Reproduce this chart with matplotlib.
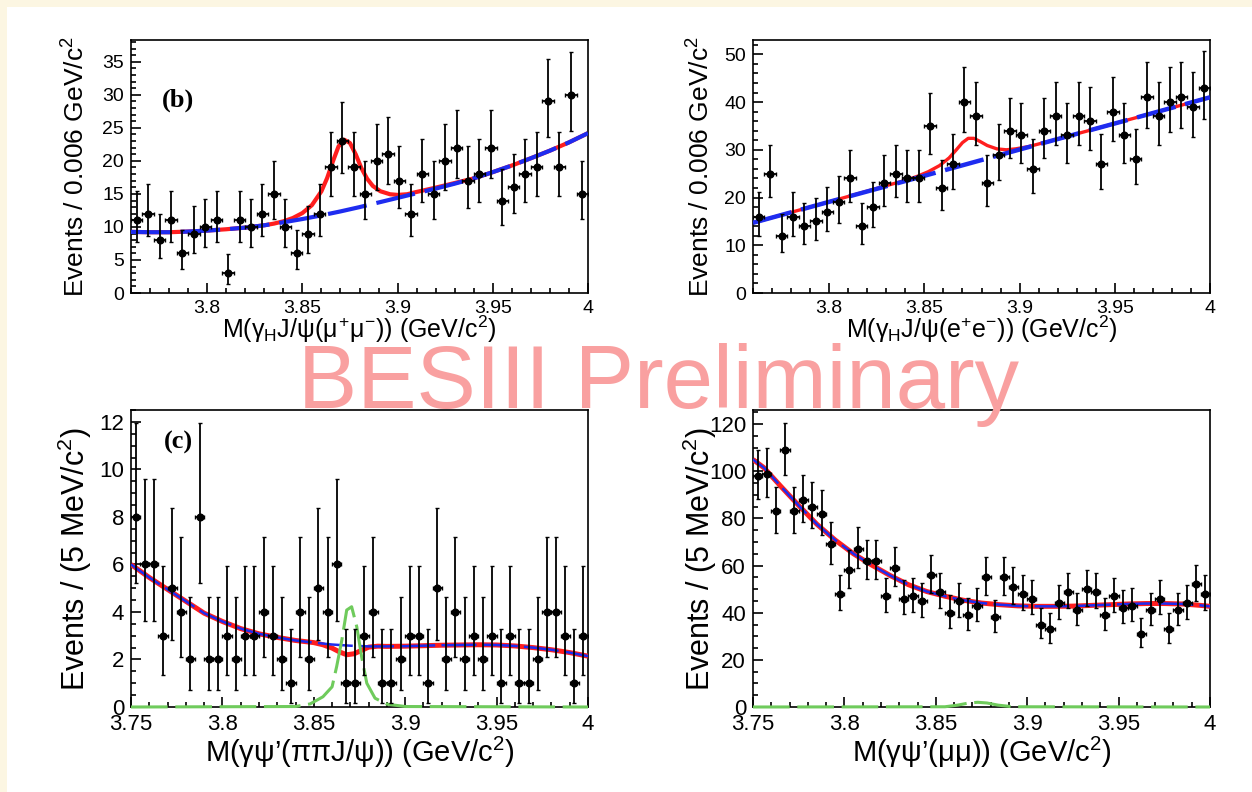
import math
import numpy as np
import matplotlib
matplotlib.use("Agg")
import matplotlib.pyplot as plt
from matplotlib.ticker import MultipleLocator, FuncFormatter
from matplotlib.patches import Rectangle

# DATOS

# (b) gamma_H J/psi(mu+ mu-), 6 MeV bins
b_range = (3.76, 4.00)
b_counts = [11, 12, 8, 11, 6, 9, 10, 11, 3, 11,
            10, 12, 15, 10, 6, 9, 12, 19, 23, 19,
            15, 20, 21, 17, 12, 18, 15, 20, 22, 17,
            18, 22, 14, 16, 18, 19, 29, 19, 30, 15]

b_bkg_x = [3.76, 3.77, 3.78, 3.79, 3.80, 3.81, 3.82, 3.83, 3.84, 3.85, 3.86, 3.87, 3.88,
           3.89, 3.90, 3.91, 3.92, 3.93, 3.94, 3.95, 3.96, 3.97, 3.98, 3.99, 4.00]
b_bkg_y = [9.25, 9.2, 9.2, 9.3, 9.45, 9.65, 9.9, 10.25, 10.7, 11.2, 11.75, 12.35, 13.0,
           13.7, 14.4, 15.1, 15.8, 16.55, 17.35, 18.3, 19.3, 20.4, 21.55, 22.8, 24.2]

b_tot_x = [3.76, 3.77, 3.78, 3.79, 3.80, 3.81, 3.82, 3.83, 3.835, 3.84, 3.845, 3.85, 3.855,
           3.86, 3.863, 3.866, 3.869, 3.872, 3.875, 3.878, 3.881, 3.884, 3.887, 3.891, 3.896,
           3.90, 3.905, 3.91, 3.92, 3.93, 3.94, 3.95, 3.96, 3.97, 3.98, 3.99, 4.00]
b_tot_y = [9.25, 9.2, 9.2, 9.3, 9.45, 9.65, 9.9, 10.25, 10.5, 10.85, 11.35, 12.1, 13.3,
           15.4, 17.4, 19.9, 22.2, 23.2, 22.7, 21.0, 18.9, 17.3, 16.2, 15.4, 14.95,
           14.85, 14.95, 15.3, 15.95, 16.65, 17.35, 18.3, 19.3, 20.4, 21.55, 22.8, 24.2]

# gamma_H J/psi(e+ e-), 6 MeV bins
e_range = (3.76, 4.00)
e_counts = [16, 25, 12, 16, 14, 15, 17, 19, 24, 14,
            18, 23, 25, 24, 24, 35, 22, 27, 40, 37,
            23, 29, 34, 33, 26, 34, 37, 33, 37, 36,
            27, 38, 33, 28, 41, 37, 40, 41, 39, 43]

e_bkg_x = [3.76, 3.80, 3.84, 3.88, 3.92, 3.96, 4.00]
e_bkg_y = [14.7, 19.1, 23.45, 27.85, 32.25, 36.6, 41.0]

e_tot_x = [3.76, 3.80, 3.84, 3.846, 3.852, 3.858, 3.863, 3.867, 3.870, 3.873, 3.876,
           3.879, 3.883, 3.888, 3.893, 3.898, 3.905, 3.92, 3.96, 4.00]
e_tot_y = [14.7, 19.1, 23.6, 24.4, 25.4, 26.7, 28.3, 30.1, 31.5, 32.4, 32.4,
           31.8, 30.9, 30.2, 30.0, 30.2, 30.7, 32.25, 36.6, 41.0]

# (c) gamma psi'(pi pi J/psi), 5 MeV bins
c_range = (3.75, 4.00)
c_counts = [8, 6, 6, 3, 5, 4, 2, 8, 2, 2,
            3, 2, 3, 3, 4, 3, 2, 1, 4, 2,
            5, 4, 6, 1, 1, 3, 4, 1, 1, 2,
            3, 3, 1, 5, 2, 4, 2, 3, 2, 3,
            1, 3, 1, 1, 2, 4, 4, 3, 1, 3]

c_bkg_x = [3.75, 3.76, 3.77, 3.78, 3.79, 3.80, 3.81, 3.82, 3.83, 3.84, 3.85, 3.86, 3.87,
           3.88, 3.89, 3.90, 3.91, 3.92, 3.93, 3.94, 3.95, 3.96, 3.97, 3.98, 3.99, 4.00]
c_bkg_y = [6.0, 5.45, 4.95, 4.45, 3.95, 3.6, 3.3, 3.08, 2.93, 2.8, 2.71, 2.63, 2.58,
           2.55, 2.55, 2.56, 2.58, 2.6, 2.61, 2.62, 2.61, 2.57, 2.5, 2.41, 2.29, 2.14]

c_tot_x = [3.75, 3.76, 3.77, 3.78, 3.79, 3.80, 3.81, 3.82, 3.83, 3.84, 3.85, 3.855, 3.86,
           3.864, 3.868, 3.872, 3.876, 3.88, 3.885, 3.89, 3.90, 3.91, 3.92, 3.93, 3.94,
           3.95, 3.96, 3.97, 3.98, 3.99, 4.00]
c_tot_y = [6.0, 5.45, 4.95, 4.45, 3.95, 3.6, 3.3, 3.08, 2.93, 2.8, 2.71, 2.62, 2.48,
           2.32, 2.2, 2.24, 2.38, 2.52, 2.56, 2.55, 2.56, 2.58, 2.6, 2.61, 2.62,
           2.61, 2.57, 2.5, 2.41, 2.29, 2.14]

c_sig_x = [3.75, 3.84, 3.848, 3.855, 3.86, 3.8625, 3.8653, 3.868, 3.8707, 3.8735,
           3.8762, 3.879, 3.8835, 3.89, 3.90, 4.00]
c_sig_y = [0.0, 0.02, 0.13, 0.43, 0.85, 1.7, 2.8, 4.08, 4.22, 3.38,
           2.1, 1.0, 0.37, 0.12, 0.02, 0.0]

# gamma psi'(mu mu), 5 MeV bins
d_range = (3.75, 4.00)
d_counts = [98, 99, 83, 109, 83, 88, 85, 82, 69, 48,
            58, 67, 62, 62, 47, 59, 46, 47, 45, 56,
            49, 40, 45, 39, 43, 55, 38, 55, 51, 48,
            46, 35, 33, 44, 49, 41, 50, 49, 39, 47,
            42, 43, 31, 41, 46, 33, 41, 44, 52, 48]

d_bkg_x = [3.75, 3.756, 3.765, 3.775, 3.785, 3.795, 3.805, 3.815, 3.825, 3.835, 3.845,
           3.855, 3.865, 3.875, 3.885, 3.895, 3.905, 3.915, 3.925, 3.935, 3.945, 3.955,
           3.965, 3.975, 3.985, 3.995, 4.00]
d_bkg_y = [105.0, 101.5, 93.8, 85.5, 77.5, 70.8, 65.0, 60.2, 55.8, 51.9, 49.0,
           47.0, 45.3, 44.1, 43.4, 42.9, 42.7, 42.7, 42.8, 43.1, 43.4, 43.7,
           43.9, 43.9, 43.7, 43.1, 42.7]

d_sig_x = [3.75, 3.855, 3.862, 3.868, 3.873, 3.878, 3.884, 3.892, 4.00]
d_sig_y = [0.0, 0.1, 0.8, 1.7, 2.0, 1.7, 0.8, 0.1, 0.0]


# Intervalo de Poisson (Garwood, 68.27%)
def poisson_cdf(k, mu):
    if k < 0:
        return 0.0
    if mu <= 0:
        return 1.0
    return sum(math.exp(j * math.log(mu) - mu - math.lgamma(j + 1)) for j in range(k + 1))


def solve_mu(f, target, hi):
    lo = 0.0
    for _ in range(80):
        mid = 0.5 * (lo + hi)
        if f(mid) > target:
            lo = mid
        else:
            hi = mid
    return 0.5 * (lo + hi)


def poisson_errors(counts):
    a = 0.5 * (1 - 0.682689)
    lo_err, hi_err = [], []
    for n in counts:
        top = n + 10 * math.sqrt(n + 1) + 10
        up = solve_mu(lambda m: poisson_cdf(n, m), a, top)
        if n == 0:
            low = 0.0
        else:
            low = solve_mu(lambda m: poisson_cdf(n - 1, m), 1 - a, top)
        lo_err.append(n - low)
        hi_err.append(up - n)
    return np.array(lo_err), np.array(hi_err)


# ESTILO

plt.rcParams["font.family"] = ["Liberation Sans", "DejaVu Sans"]
plt.rcParams["mathtext.fontset"] = "custom"
plt.rcParams["mathtext.rm"] = "Liberation Sans"
plt.rcParams["mathtext.it"] = "Liberation Sans"
plt.rcParams["mathtext.bf"] = "Liberation Sans:bold"

cream = "#FCF6E2"
red = "#FF1E1E"
blue = "#1E2CF0"
green = "#6FCB5C"

fig = plt.figure(figsize=(12.52, 7.92), dpi=100, facecolor=cream)
fig.patches.append(Rectangle((7 / 1252, 0), 1, 1 - 7 / 792, transform=fig.transFigure,
                             facecolor="white", edgecolor="none", zorder=-10))

W, H = 1252.0, 792.0


def make_axes(left_px, top_px, w_px, h_px):
    return fig.add_axes([left_px / W, 1 - (top_px + h_px) / H, w_px / W, h_px / H])


def style_axes(ax, xr, ylim, ymaj, ymin, fs_tick):
    ax.set_xlim(*xr)
    ax.set_ylim(*ylim)
    ax.xaxis.set_major_locator(MultipleLocator(0.05))
    ax.xaxis.set_minor_locator(MultipleLocator(0.01))
    ax.yaxis.set_major_locator(MultipleLocator(ymaj))
    ax.yaxis.set_minor_locator(MultipleLocator(ymin))
    fmt = FuncFormatter(lambda v, p: "%g" % round(v, 4))
    ax.xaxis.set_major_formatter(fmt)
    ax.yaxis.set_major_formatter(fmt)
    ax.tick_params(which="both", direction="in", top=False, right=False, width=1.2,
                   labelsize=fs_tick, pad=5)
    ax.tick_params(which="major", length=7)
    ax.tick_params(which="minor", length=3.5)
    for s in ax.spines.values():
        s.set_linewidth(1.2)


def draw_data(ax, xr, counts):
    counts = np.array(counts)
    edges = np.linspace(xr[0], xr[1], len(counts) + 1)
    centers = 0.5 * (edges[:-1] + edges[1:])
    half = 0.5 * (edges[1] - edges[0])
    lo, hi = poisson_errors(counts)
    ax.errorbar(centers, counts, xerr=half, yerr=[lo, hi], fmt="o", color="black",
                markersize=4.8, elinewidth=1.3, capsize=1.5, capthick=1.0, zorder=6)


def draw_curve(ax, x, y, color, lw, dashes=None, zorder=3, clip=True):
    line, = ax.plot(x, y, color=color, lw=lw, zorder=zorder, solid_capstyle="butt",
                    clip_on=clip)
    if dashes is not None:
        line.set_dashes(dashes)
        line.set_dash_capstyle("butt")
    return line


# (b) panel superior izquierdo
ax1 = make_axes(131, 40, 457, 253)
style_axes(ax1, b_range, (0, 38.3), 5, 1, 14)
draw_curve(ax1, b_tot_x, b_tot_y, red, 3.0, zorder=2)
draw_curve(ax1, b_bkg_x, b_bkg_y, blue, 3.0, dashes=(9.5, 2.4), zorder=3)
draw_data(ax1, b_range, b_counts)
ax1.set_ylabel(r"Events / 0.006 GeV/c$^{2}$", fontsize=19)
ax1.yaxis.set_label_coords(-0.09, 0.5)
ax1.set_xlabel(r"M($\gamma_{\rm H}$J/$\psi$($\mu^{+}\mu^{-}$)) (GeV/c$^{2}$)", fontsize=18)
ax1.xaxis.set_label_coords(0.5, -0.08)
ax1.text(0.103, 0.76, "(b)", transform=ax1.transAxes, ha="center", va="center",
         fontsize=19, fontweight="bold", family="Liberation Serif")

# panel superior derecho
ax2 = make_axes(753, 40, 457, 253)
style_axes(ax2, e_range, (0, 53), 10, 2, 14)
draw_curve(ax2, e_tot_x, e_tot_y, red, 2.4, zorder=2)
draw_curve(ax2, e_bkg_x, e_bkg_y, blue, 3.2, dashes=(9.0, 2.2), zorder=3)
draw_data(ax2, e_range, e_counts)
ax2.set_ylabel(r"Events / 0.006 GeV/c$^{2}$", fontsize=19)
ax2.yaxis.set_label_coords(-0.085, 0.5)
ax2.set_xlabel(r"M($\gamma_{\rm H}$J/$\psi$(e$^{+}$e$^{-}$)) (GeV/c$^{2}$)", fontsize=18)
ax2.xaxis.set_label_coords(0.5, -0.08)

# (c) panel inferior izquierdo
ax3 = make_axes(131, 410, 457, 297)
style_axes(ax3, c_range, (0, 12.5), 2, 0.5, 16)
draw_curve(ax3, c_tot_x, c_tot_y, red, 3.6, zorder=3)
draw_curve(ax3, c_bkg_x, c_bkg_y, blue, 1.8, dashes=(14, 2.5), zorder=4)
draw_curve(ax3, c_sig_x, c_sig_y, green, 2.2, dashes=(12, 2.5), zorder=5, clip=False)
draw_data(ax3, c_range, c_counts)
ax3.set_ylabel(r"Events / (5 MeV/c$^{2}$)", fontsize=22)
ax3.yaxis.set_label_coords(-0.08, 0.5)
ax3.set_xlabel(u"M($\\gamma\\psi$\u2019($\\pi\\pi$J/$\\psi$)) (GeV/c$^{2}$)", fontsize=21)
ax3.xaxis.set_label_coords(0.5, -0.094)
ax3.text(0.103, 0.89, "(c)", transform=ax3.transAxes, ha="center", va="center",
         fontsize=19, fontweight="bold", family="Liberation Serif")

# panel inferior derecho
ax4 = make_axes(753, 410, 457, 297)
style_axes(ax4, d_range, (0, 126), 20, 5, 16)
draw_curve(ax4, d_bkg_x, d_bkg_y, red, 3.6, zorder=3)
draw_curve(ax4, d_bkg_x, d_bkg_y, blue, 1.8, dashes=(14, 2.5), zorder=4)
draw_curve(ax4, d_sig_x, d_sig_y, green, 2.2, dashes=(12, 2.5), zorder=5, clip=False)
draw_data(ax4, d_range, d_counts)
ax4.set_ylabel(r"Events / (5 MeV/c$^{2}$)", fontsize=22)
ax4.yaxis.set_label_coords(-0.075, 0.5)
ax4.set_xlabel(u"M($\\gamma\\psi$\u2019($\\mu\\mu$)) (GeV/c$^{2}$)", fontsize=21)
ax4.xaxis.set_label_coords(0.5, -0.094)

# marca de agua
fig.text(659 / W, 1 - 408 / H, "BESIII Preliminary", ha="center", va="baseline",
         fontsize=64, color="#F9A0A0", family="Liberation Sans", zorder=20)

fig.savefig("out.png", dpi=100, facecolor=fig.get_facecolor())
